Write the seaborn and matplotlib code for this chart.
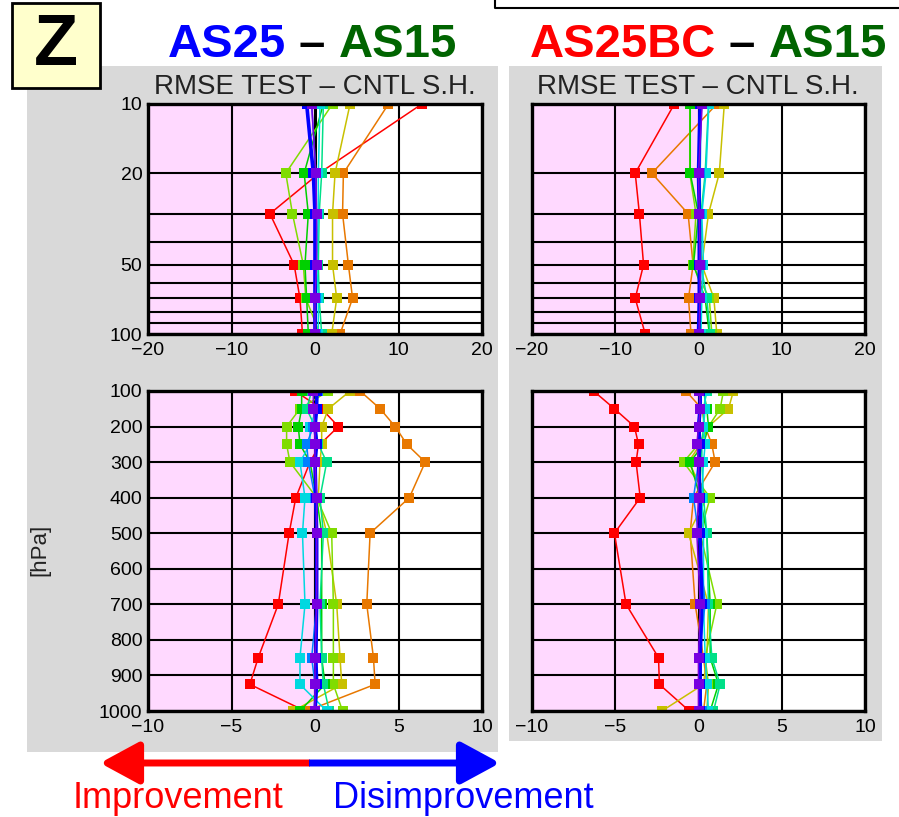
import numpy as np
import pandas as pd
import matplotlib
matplotlib.use("Agg")
import matplotlib.pyplot as plt
import seaborn as sns
from matplotlib.patches import Rectangle, FancyArrowPatch
from matplotlib.lines import Line2D

# ---------------- data ----------------
levels_top = [10, 20, 30, 50, 70, 100]
levels_bot = [100, 150, 200, 250, 300, 400, 500, 700, 850, 925, 1000]
series_names = ["s1", "s2", "s3", "s4", "s5", "s6", "s7", "s8", "s9", "s10"]
series_colors = ["#FF0000", "#E87800", "#C8C000", "#80DC00", "#00D000",
                 "#00E088", "#00D8E0", "#0080FF", "#0000FF", "#7800E0"]

tl_values = [
    [12.8, 0.5, -5.4, -2.5, -1.8, -1.5],
    [8.8, 3.4, 3.3, 4.0, 4.5, 3.0],
    [4.2, 2.4, 2.1, 2.1, 2.6, 2.0],
    [2.1, -3.5, -2.7, -1.4, -1.1, 0.6],
    [1.0, -1.3, -0.8, -1.2, -1.0, -0.8],
    [1.0, 0.8, 0.5, 0.4, 0.5, 0.8],
    [0.6, 0.4, 0.4, 0.2, 0.4, 0.4],
    [-0.4, 0.1, 0.1, 0.0, 0.1, 0.1],
    [-1.0, -0.2, 0.0, 0.0, 0.0, 0.0],
    [-0.4, 0.1, 0.2, 0.2, 0.0, 0.0],
]
bl_values = [
    [-1.2, 0.4, 1.4, 0.3, -0.3, -1.15, -1.55, -2.2, -3.4, -3.9, -0.6],
    [2.7, 3.9, 4.8, 5.5, 6.6, 5.65, 3.3, 3.1, 3.5, 3.6, -0.5],
    [2.1, 0.8, 0.4, 0.4, 0.3, 0.2, 0.7, 1.3, 1.5, 1.6, -1.3],
    [0.8, -0.9, -1.7, -1.7, -1.5, 0.1, 1.0, 1.1, 1.1, 1.1, 1.65],
    [-0.8, -0.8, -1.0, -0.9, -0.3, 0.1, 0.4, 0.4, 0.4, 0.6, -0.9],
    [-0.2, -0.5, 0.0, 0.2, 0.7, 0.3, 0.5, 0.3, 0.4, 0.5, 0.85],
    [0.0, 0.1, -0.3, -0.3, -0.9, -0.6, -0.75, -0.6, -0.9, -0.9, 0.7],
    [0.2, 0.1, -0.1, -0.5, -0.4, 0.0, 0.1, 0.1, -0.2, 0.0, 0.0],
    [0.1, 0.1, 0.0, 0.1, 0.0, 0.05, 0.1, 0.1, 0.05, 0.1, 0.0],
    [-0.1, -0.1, 0.0, 0.0, 0.0, 0.1, 0.1, 0.1, 0.0, 0.0, 0.0],
]
tr_values = [
    [-2.9, -7.6, -7.1, -6.6, -7.6, -6.4],
    [2.2, -5.6, -1.25, -0.65, -1.2, -0.9],
    [3.1, 2.5, 1.2, 0.4, 1.85, 2.2],
    [-1.05, -1.05, -0.3, -0.7, 1.3, 1.6],
    [-1.0, -1.0, 0.0, -0.6, 0.8, 1.3],
    [1.2, 0.8, 0.3, 0.3, 1.0, 1.4],
    [1.25, 0.9, 0.4, 0.6, 0.4, 0.3],
    [0.3, 0.2, 0.2, 0.3, 0.2, 0.1],
    [0.2, 0.0, 0.1, 0.1, 0.1, 0.0],
    [0.45, 0.0, 0.1, 0.2, 0.2, 0.05],
]
br_values = [
    [-6.3, -5.05, -3.85, -3.6, -3.75, -3.5, -5.05, -4.35, -2.4, -2.35, -0.55],
    [-0.75, 0.2, 0.4, 0.8, 1.0, -0.3, -0.5, -0.2, 0.3, 0.5, 0.3],
    [2.1, 1.8, 0.6, 0.1, -0.6, 0.5, -0.6, 0.6, 0.5, 0.3, -2.2],
    [1.5, 1.3, 0.6, 0.0, -0.9, 0.7, 0.1, 1.1, 0.4, 0.6, 0.5],
    [0.3, 0.5, 0.6, 0.3, -0.5, 0.1, 0.5, 0.7, 0.7, 1.2, 0.7],
    [0.5, 0.3, 0.3, 0.2, 0.2, 0.3, 0.5, 0.6, 0.8, 1.3, 0.9],
    [0.4, 0.4, 0.3, 0.4, 0.3, 0.2, 0.3, 0.3, 0.4, 0.5, 0.6],
    [0.1, 0.1, 0.0, 0.0, 0.0, -0.3, 0.0, 0.4, 0.0, 0.1, 0.2],
    [0.1, 0.1, 0.0, 0.1, 0.0, 0.1, 0.1, 0.2, 0.1, 0.1, 0.1],
    [0.05, 0.1, 0.0, -0.1, 0.0, 0.0, -0.1, 0.1, 0.0, 0.0, 0.0],
]

top_xticks = [-20, -10, 0, 10, 20]
bot_xticks = [-10, -5, 0, 5, 10]
top_yticks = [10, 20, 50, 100]
top_ygrid = [30, 40, 60, 70, 80, 90]
bot_yticks = [100, 200, 300, 400, 500, 600, 700, 800, 900, 1000]

title_small = "RMSE TEST \u2013 CNTL S.H."

# ---------------- figure ----------------
sns.set_theme(style="white")
plt.rcParams["font.family"] = ["Liberation Sans", "DejaVu Sans"]
W, H = 899, 817
fig = plt.figure(figsize=(W / 100, H / 100), dpi=100)
fig.patch.set_facecolor("white")

def fx(px):
    return px / W

def fy(py):
    return 1 - py / H

# gray backgrounds
fig.patches.append(Rectangle((fx(27), fy(752)), fx(498) - fx(27), fy(66) - fy(752),
                             transform=fig.transFigure, facecolor="#D9D9D9",
                             edgecolor="none", zorder=-5))
fig.patches.append(Rectangle((fx(509), fy(741)), fx(882) - fx(509), fy(66) - fy(741),
                             transform=fig.transFigure, facecolor="#D9D9D9",
                             edgecolor="none", zorder=-5))

def make_ax(l, r, t, b):
    return fig.add_axes([fx(l), fy(b), fx(r) - fx(l), fy(t) - fy(b)])

ax_tl = make_ax(148, 482, 104, 334)
ax_tr = make_ax(532, 865, 104, 334)
ax_bl = make_ax(148, 482, 391, 711)
ax_br = make_ax(532, 865, 391, 711)

def fmt_tick(v):
    return ("\u2212%d" % -v) if v < 0 else "%d" % v

def draw_panel(ax, levels, values, xlim, xticks, top, show_y):
    ax.set_facecolor("white")
    ax.axvspan(xlim[0], 0, color="#FFD9FF", zorder=0, lw=0)
    ax.axvline(0, color="black", lw=2.2, zorder=1)
    for name, col, vals in zip(series_names, series_colors, values):
        df = pd.DataFrame({"value": vals, "level": levels})
        lw = 2.6 if col == "#0000FF" else 1.1
        sns.lineplot(data=df, x="value", y="level", orient="y", sort=False,
                     color=col, marker="s", markersize=6.8, markeredgewidth=0,
                     linewidth=lw, ax=ax, zorder=3, estimator=None)
    ax.set_xlim(*xlim)
    ax.set_xticks(xticks)
    ax.set_xticklabels([fmt_tick(v) for v in xticks])
    if top:
        ax.set_yscale("log")
        ax.set_ylim(100, 10)
        ax.set_yticks(top_yticks)
        ax.set_yticks(top_ygrid, minor=True)
        ax.set_yticklabels([str(v) for v in top_yticks] if show_y else [])
        ax.yaxis.set_minor_formatter(matplotlib.ticker.NullFormatter())
    else:
        ax.set_ylim(1000, 100)
        ax.set_yticks(bot_yticks)
        ax.set_yticklabels([str(v) for v in bot_yticks] if show_y else [])
    ax.grid(True, which="both", color="black", lw=1.5, zorder=1)
    ax.set_axisbelow(True)
    ax.tick_params(axis="both", which="both", length=0, labelsize=14,
                   colors="black")
    ax.tick_params(axis="x", pad=6)
    ax.tick_params(axis="y", pad=4)
    ax.set_xlabel("")
    ax.set_ylabel("")
    for sp in ax.spines.values():
        sp.set_visible(True)
        sp.set_color("black")
        sp.set_linewidth(2.4)
        sp.set_zorder(5)

draw_panel(ax_tl, levels_top, tl_values, (-20, 20), top_xticks, True, True)
draw_panel(ax_tr, levels_top, tr_values, (-20, 20), top_xticks, True, False)
draw_panel(ax_bl, levels_bot, bl_values, (-10, 10), bot_xticks, False, True)
draw_panel(ax_br, levels_bot, br_values, (-10, 10), bot_xticks, False, False)

# small titles
fig.text(fx(315), fy(87), title_small, ha="center", va="center", fontsize=20, color="#222222")
fig.text(fx(698), fy(87), title_small, ha="center", va="center", fontsize=20, color="#222222")

# Z box
fig.patches.append(Rectangle((fx(12), fy(88)), fx(100) - fx(12), fy(3) - fy(88),
                             transform=fig.transFigure, facecolor="#FFFFCC",
                             edgecolor="black", lw=2, zorder=2))
fig.text(fx(56), fy(46), "Z", ha="center", va="center", fontsize=52,
         fontweight="bold", color="black", zorder=3)

# colored headers
fig.canvas.draw()
renderer = fig.canvas.get_renderer()

def colored_header(x_px, y_px, parts):
    x = x_px
    for txt, col in parts:
        t = fig.text(fx(x), fy(y_px), txt, ha="left", va="baseline", fontsize=34,
                     fontweight="bold", color=col)
        bb = t.get_window_extent(renderer=renderer)
        x = x + bb.width

colored_header(168, 57, [("AS25", "#0000FF"), (" \u2013 ", "black"), ("AS15", "#006400")])
colored_header(530, 57, [("AS25BC", "#FF0000"), (" \u2013 ", "black"), ("AS15", "#006400")])

# hPa label
fig.text(fx(40), fy(550), "[hPa]", rotation=90, ha="center", va="center", fontsize=16, color="#222222")

# top-right stray box outline
fig.lines.append(Line2D([fx(495), fx(495), 1.0], [1.0, fy(8), fy(8)],
                        transform=fig.transFigure, color="black", lw=1.5))

# arrows
arr_y = fy(763)
fig.patches.append(FancyArrowPatch((fx(310), arr_y), (fx(100), arr_y),
                                   transform=fig.transFigure,
                                   arrowstyle="-|>,head_length=1.2,head_width=0.65",
                                   mutation_scale=20, color="#FF0000", lw=5,
                                   shrinkA=0, shrinkB=0, joinstyle="round", capstyle="butt"))
fig.patches.append(FancyArrowPatch((fx(309), arr_y), (fx(500), arr_y),
                                   transform=fig.transFigure,
                                   arrowstyle="-|>,head_length=1.2,head_width=0.65",
                                   mutation_scale=20, color="#0000FF", lw=5,
                                   shrinkA=0, shrinkB=0, joinstyle="round", capstyle="butt"))

fig.text(fx(178), fy(798), "Improvement", ha="center", va="center", fontsize=26, color="#FF0000")
fig.text(fx(463), fy(798), "Disimprovement", ha="center", va="center", fontsize=26, color="#0000FF")

fig.savefig("out.png", dpi=100, facecolor="white")
